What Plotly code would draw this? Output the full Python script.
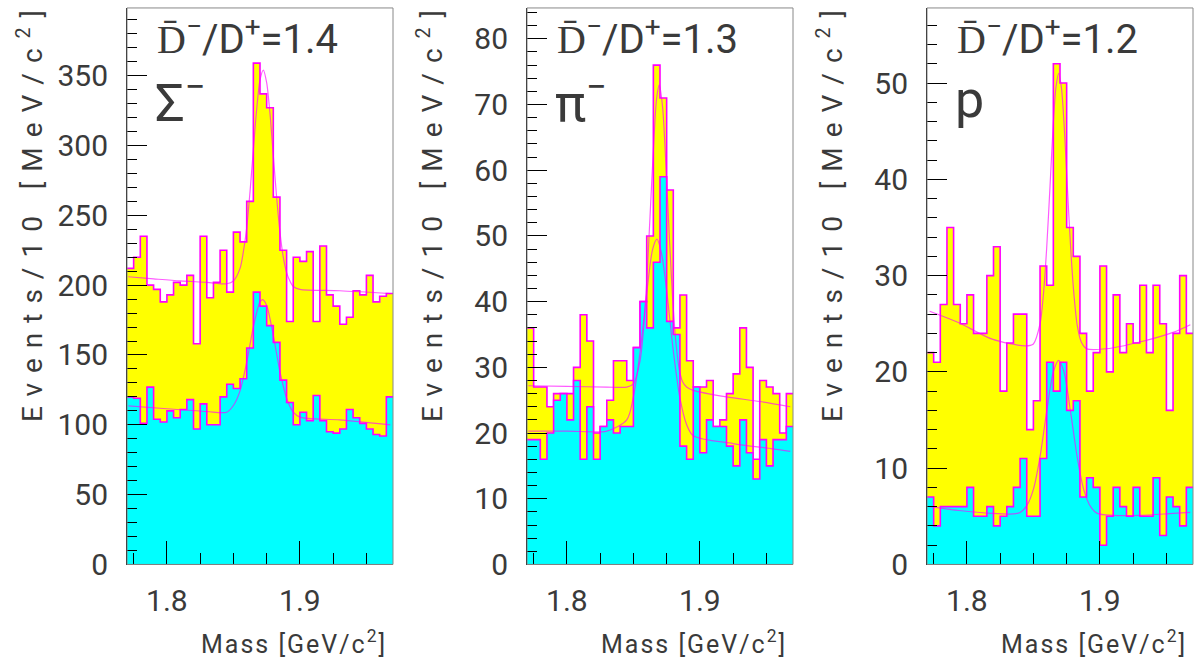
import plotly.graph_objects as go

# ---------------- data ----------------
BIN_LO = 1.77      # GeV, lower edge of first bin
BIN_W = 0.005      # GeV, bin width
N_BINS = 40

# Panel 1 : Sigma-
sigma_all = [212, 220, 235, 200, 197, 188, 193, 202, 200, 207, 158, 235, 191, 202, 225, 195, 238, 231, 260, 359,
             337, 327, 263, 225, 174, 220, 217, 224, 174, 228, 193, 185, 172, 177, 196, 193, 207, 188, 192, 194]
sigma_sub = [120, 119, 101, 127, 104, 102, 110, 105, 111, 118, 97, 115, 100, 100, 120, 129, 126, 133, 155, 195,
             185, 171, 159, 132, 116, 100, 109, 103, 121, 103, 95, 94, 97, 111, 105, 101, 97, 93, 92, 120]

# Panel 2 : pi-
pi_all = [36, 27, 27, 24, 26, 26, 26, 30, 38, 34, 20, 21, 25, 31, 31, 28, 33, 40, 50, 76,
          71, 57, 36, 41, 31, 27, 27, 28, 21, 22, 26, 29, 36, 30, 16, 28, 27, 26, 20, 26]
pi_sub = [19, 19, 16, 20, 25, 26, 22, 28, 16, 24, 16, 21, 22, 20, 21, 21, 33, 40, 36, 46,
          59, 37, 35, 18, 16, 27, 17, 22, 21, 21, 18, 15, 22, 17, 13, 19, 15, 19, 19, 21]

# Panel 3 : p
p_all = [22, 21, 27, 35, 27, 25, 28, 24, 24, 30, 33, 18, 23, 26, 26, 14, 17, 31, 29, 52,
         50, 35, 32, 24, 18, 22, 31, 20, 28, 22, 25, 23, 29, 22, 29, 25, 16, 24, 30, 24]
p_sub = [7, 4, 6, 6, 6, 6, 8, 5, 5, 6, 4, 5, 6, 8, 11, 5, 5, 11, 21, 18,
         21, 16, 17, 7, 9, 8, 2, 5, 8, 6, 5, 8, 5, 5, 9, 3, 7, 6, 4, 8]

# Fit curves, points
sigma_fit_all_x = [1.771, 1.790, 1.810, 1.830, 1.845, 1.850, 1.855, 1.8575, 1.860, 1.8625, 1.865, 1.8675, 1.870,
                   1.8725, 1.875, 1.8775, 1.880, 1.8825, 1.885, 1.8875, 1.890, 1.8925, 1.895, 1.900, 1.930, 1.968]
sigma_fit_all_y = [206, 204.5, 203, 202, 201, 203, 212, 224, 241, 267, 297, 326, 347,
                   354, 345, 323, 293, 263, 238, 220, 209, 203, 199, 197, 196, 194]
sigma_fit_sub_x = [1.771, 1.800, 1.830, 1.845, 1.850, 1.855, 1.860, 1.865, 1.870, 1.872, 1.875, 1.880,
                   1.885, 1.890, 1.895, 1.900, 1.930, 1.968]
sigma_fit_sub_y = [113.5, 111.5, 109.5, 109, 113.8, 124.3, 144.8, 170, 188, 189.6, 185.5, 164,
                   138, 119, 109, 105.5, 103.5, 100]

pi_fit_all_x = [1.771, 1.800, 1.830, 1.845, 1.850, 1.855, 1.8575, 1.860, 1.8625, 1.865, 1.8675, 1.8695, 1.872,
                1.8745, 1.877, 1.8795, 1.882, 1.8845, 1.887, 1.890, 1.895, 1.920, 1.945, 1.968]
pi_fit_all_y = [27.2, 27.1, 27.0, 27.0, 27.5, 31, 35.5, 43, 53, 63, 71, 73, 69.5,
                60.5, 50, 40.5, 33.7, 29.7, 27.8, 27, 26.5, 25.5, 24.8, 24]
pi_fit_sub_x = [1.771, 1.800, 1.830, 1.845, 1.850, 1.855, 1.860, 1.8645, 1.8677, 1.871, 1.875, 1.880,
                1.885, 1.890, 1.895, 1.925, 1.955, 1.968]
pi_fit_sub_y = [20.3, 20.3, 20.3, 22, 25.5, 32.3, 41.3, 48, 49.5, 47.5, 41.7, 32.5,
                25.3, 21.3, 19.6, 18.4, 17.6, 17.2]

p_fit_all_x = [1.772, 1.794, 1.819, 1.844, 1.850, 1.855, 1.8575, 1.860, 1.8625, 1.865, 1.867, 1.869, 1.871,
               1.873, 1.8755, 1.878, 1.8805, 1.883, 1.886, 1.890, 1.905, 1.930, 1.955, 1.968]
p_fit_all_y = [26.3, 25.1, 23.4, 22.7, 22.9, 25.0, 28, 32.9, 39.3, 45.9, 49.6, 51, 49.6,
               45.9, 39.3, 32.9, 28, 24.8, 23.1, 22.4, 22.4, 23.1, 24.1, 24.9]
p_fit_sub_x = [1.772, 1.794, 1.819, 1.835, 1.840, 1.845, 1.850, 1.855, 1.860, 1.865, 1.869, 1.873, 1.878,
               1.883, 1.888, 1.893, 1.898, 1.910, 1.930, 1.955, 1.968]
p_fit_sub_y = [6.0, 5.6, 5.3, 5.25, 5.4, 6.1, 7.8, 11.2, 15.9, 20, 21.2, 20, 15.8,
               11.1, 7.7, 6, 5.3, 5.1, 5.1, 5.3, 5.4]

ratio_labels = ["1.4", "1.3", "1.2"]
particle_labels = ["\u03a3<sup>\u2212</sup>", "\u03c0<sup>\u2212</sup>", "p"]
y_maxes = [398.5, 84.7, 57.8]
y_dticks = [50, 10, 10]
y_minor = [10, 2, 2]

# ---------------- styling ----------------
W, H = 1197, 663
FIG_H = 678          # the page renders slightly compressed vertically in the viewer
YELLOW = "#ffff00"
CYAN = "#00ffff"
MAGENTA = "#ff00ff"
FIT = "rgba(255,0,255,0.65)"
TXT = "#3a3a3a"
FONT = "Roboto"

panel_px = [(127, 393), (527, 793), (927, 1193)]
y_dom = [(H - 567) / H, (H - 8) / H]

edges = [BIN_LO + BIN_W * k for k in range(N_BINS + 1)]

hists = [(sigma_all, sigma_sub), (pi_all, pi_sub), (p_all, p_sub)]
fits = [((sigma_fit_all_x, sigma_fit_all_y), (sigma_fit_sub_x, sigma_fit_sub_y)),
        ((pi_fit_all_x, pi_fit_all_y), (pi_fit_sub_x, pi_fit_sub_y)),
        ((p_fit_all_x, p_fit_all_y), (p_fit_sub_x, p_fit_sub_y))]

fig = go.Figure()
annotations = []
shapes = []

for i in range(3):
    xa = "x" if i == 0 else f"x{i+1}"
    ya = "y" if i == 0 else f"y{i+1}"
    all_c, sub_c = hists[i]
    for counts, col in ((all_c, YELLOW), (sub_c, CYAN)):
        fig.add_trace(go.Scatter(
            x=edges, y=list(counts) + [counts[-1]],
            mode="lines", line=dict(shape="hv", color=MAGENTA, width=1.6),
            fill="tozeroy", fillcolor=col, xaxis=xa, yaxis=ya,
            showlegend=False, hoverinfo="skip"))
    for fx, fy in fits[i]:
        fig.add_trace(go.Scatter(
            x=fx, y=fy, mode="lines",
            line=dict(shape="spline", color=FIT, width=1.2, smoothing=0.8),
            xaxis=xa, yaxis=ya, showlegend=False, hoverinfo="skip"))

    l, r = panel_px[i]
    xkey = "xaxis" if i == 0 else f"xaxis{i+1}"
    ykey = "yaxis" if i == 0 else f"yaxis{i+1}"
    fig.layout[xkey] = dict(
        domain=[l / W, r / W], range=[BIN_LO, BIN_LO + BIN_W * N_BINS],
        anchor=ya, showline=True, linecolor="#333", linewidth=1,
        ticks="inside", ticklen=23, tickwidth=1, tickcolor="black",
        tick0=1.8, dtick=0.1,
        minor=dict(ticks="inside", ticklen=11, dtick=0.025, tickcolor="black", tickwidth=1),
        showgrid=False, zeroline=False, ticklabelstandoff=10,
        tickfont=dict(family=FONT, size=30, color=TXT))
    fig.layout[ykey] = dict(
        domain=y_dom, range=[0, y_maxes[i]], anchor=xa,
        showline=True, linecolor="black", linewidth=1,
        ticks="inside", ticklen=20, tickwidth=1, tickcolor="black",
        tick0=0, dtick=y_dticks[i],
        minor=dict(ticks="inside", ticklen=10, dtick=y_minor[i], tickcolor="black", tickwidth=1),
        showgrid=False, zeroline=False, ticklabelstandoff=12,
        tickfont=dict(family=FONT, size=30, color=TXT))

    # frame (top & right)
    shapes.append(dict(type="rect", xref=f"{xa} domain", yref=f"{ya} domain",
                       x0=0, x1=1, y0=0, y1=1, line=dict(color="#888", width=1),
                       layer="above"))

    # title D-bar / D+ ratio
    annotations.append(dict(
        x=(l + 28) / W, y=1 - 37 / H, xref="paper", yref="paper",
        xanchor="left", yanchor="middle", showarrow=False,
        text=f"D\u0304<sup>\u2212</sup>/D<sup>+</sup>={ratio_labels[i]}",
        font=dict(family=FONT, size=40, color=TXT)))
    # particle label
    annotations.append(dict(
        x=(l + 26) / W, y=1 - 100 / H, xref="paper", yref="paper",
        xanchor="left", yanchor="middle", showarrow=False,
        text=particle_labels[i],
        font=dict(family=FONT, size=52, color=TXT)))
    # y title
    annotations.append(dict(
        x=(l - 97) / W, y=1 + 2 / H, xref="paper", yref="paper",
        xanchor="center", yanchor="top", showarrow=False, textangle=-90,
        text="<span style='letter-spacing:10px'>Events/10 [MeV/c<sup>2</sup>]</span>",
        font=dict(family=FONT, size=28, color=TXT)))
    # x title
    annotations.append(dict(
        x=(r - 4) / W, y=1 - 645 / H, xref="paper", yref="paper",
        xanchor="right", yanchor="middle", showarrow=False,
        text="<span style='letter-spacing:2px'>Mass [GeV/c<sup>2</sup>]</span>",
        font=dict(family=FONT, size=25, color=TXT)))

fig.update_layout(
    width=W, height=FIG_H, autosize=False, margin=dict(l=0, r=0, t=0, b=0),
    paper_bgcolor="white", plot_bgcolor="white",
    annotations=annotations, shapes=shapes, showlegend=False)

fig.write_html("out.html", config={"responsive": False})
